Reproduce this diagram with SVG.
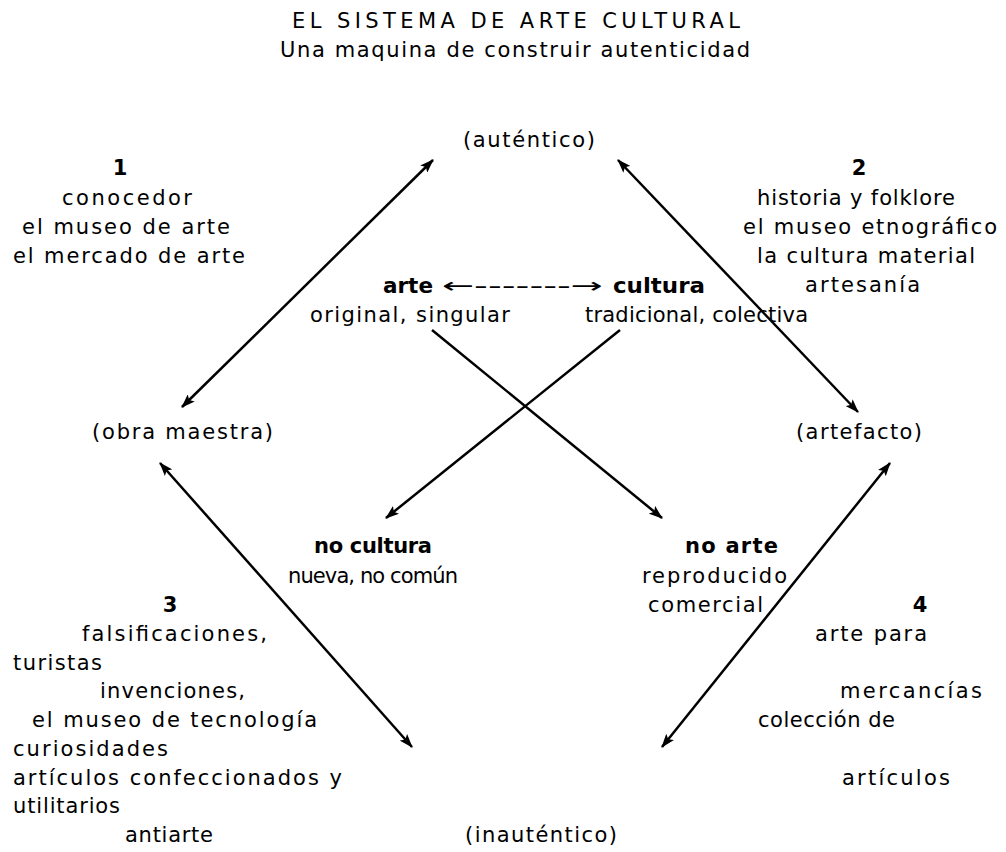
<svg xmlns="http://www.w3.org/2000/svg" width="1006" height="852" viewBox="0 0 1006 852">
<style>
text{font-family:"DejaVu Sans","Liberation Sans",sans-serif;font-size:21px;fill:#000}
.b{font-weight:bold}
.m{text-anchor:middle}
.c{stroke:#000;stroke-width:2.5;fill:none}
</style>
<defs>
<marker id="ah" viewBox="0 0 14 10" refX="13" refY="5" markerWidth="14" markerHeight="10" markerUnits="userSpaceOnUse" orient="auto-start-reverse">
<path d="M0,0 L14,5 L0,10 L3,5 z" fill="#000"/>
</marker>
</defs>
<rect width="1006" height="852" fill="#fff"/>
<g id="title">
<text x="292" y="28" textLength="448" lengthAdjust="spacing">EL SISTEMA DE ARTE CULTURAL</text>
<text x="280" y="57" textLength="470" lengthAdjust="spacing">Una maquina de construir autenticidad</text>
</g>
<g id="autentico"><text x="463" y="147" textLength="132" lengthAdjust="spacing">(auténtico)</text></g>
<g id="zona1">
<text class="b m" x="120" y="175">1</text>
<text x="62" y="205" textLength="130" lengthAdjust="spacing">conocedor</text>
<text x="22" y="234" textLength="208" lengthAdjust="spacing">el museo de arte</text>
<text x="13" y="263" textLength="232" lengthAdjust="spacing">el mercado de arte</text>
</g>
<g id="zona2">
<text class="b m" x="859" y="175">2</text>
<text x="757" y="205" textLength="198" lengthAdjust="spacing">historia y folklore</text>
<text x="743" y="234" textLength="254" lengthAdjust="spacing">el museo etnográfico</text>
<text x="757" y="263" textLength="218" lengthAdjust="spacing">la cultura material</text>
<text x="805" y="292" textLength="115" lengthAdjust="spacing">artesanía</text>
</g>
<g id="arte">
<text class="b" x="383" y="293" textLength="50" lengthAdjust="spacingAndGlyphs">arte</text>
<text x="310" y="322" textLength="200" lengthAdjust="spacing">original, singular</text>
</g>
<g id="arte-cultura-eje"><text x="442" y="293" textLength="161" lengthAdjust="spacingAndGlyphs">←-------→</text></g>
<g id="cultura">
<text class="b" x="613" y="293" textLength="92" lengthAdjust="spacingAndGlyphs">cultura</text>
<text x="585" y="322" textLength="223" lengthAdjust="spacing">tradicional, colectiva</text>
</g>
<g id="obra-maestra"><text x="92" y="439" textLength="181" lengthAdjust="spacing">(obra maestra)</text></g>
<g id="artefacto"><text x="796" y="439" textLength="126" lengthAdjust="spacing">(artefacto)</text></g>
<g id="no-cultura">
<text class="b" x="314" y="553" textLength="118" lengthAdjust="spacing">no cultura</text>
<text x="288" y="583" textLength="170" lengthAdjust="spacing">nueva, no común</text>
</g>
<g id="no-arte">
<text class="b" x="685" y="553" textLength="93" lengthAdjust="spacing">no arte</text>
<text x="642" y="583" textLength="145" lengthAdjust="spacing">reproducido</text>
<text x="648" y="612" textLength="115" lengthAdjust="spacing">comercial</text>
</g>
<g id="zona3">
<text class="b m" x="170" y="612">3</text>
<text x="82" y="641" textLength="185" lengthAdjust="spacing">falsificaciones,</text>
<text x="13" y="670" textLength="89" lengthAdjust="spacing">turistas</text>
<text x="100" y="698" textLength="145" lengthAdjust="spacing">invenciones,</text>
<text x="32" y="727" textLength="285" lengthAdjust="spacing">el museo de tecnología</text>
<text x="13" y="756" textLength="155" lengthAdjust="spacing">curiosidades</text>
<text x="13" y="785" textLength="329" lengthAdjust="spacing">artículos confeccionados y</text>
<text x="13" y="813" textLength="107" lengthAdjust="spacing">utilitarios</text>
<text x="125" y="842" textLength="88" lengthAdjust="spacing">antiarte</text>
</g>
<g id="zona4">
<text class="b m" x="920" y="612">4</text>
<text x="815" y="641" textLength="112" lengthAdjust="spacing">arte para</text>
<text x="840" y="698" textLength="142" lengthAdjust="spacing">mercancías</text>
<text x="758" y="727" textLength="137" lengthAdjust="spacing">colección de</text>
<text x="842" y="785" textLength="108" lengthAdjust="spacing">artículos</text>
</g>
<g id="inautentico"><text x="465" y="842" textLength="152" lengthAdjust="spacing">(inauténtico)</text></g>
<g id="connectors">
<line class="c" x1="182" y1="407" x2="433" y2="160" marker-start="url(#ah)" marker-end="url(#ah)"/>
<line class="c" x1="858" y1="412" x2="618" y2="160" marker-start="url(#ah)" marker-end="url(#ah)"/>
<line class="c" x1="160" y1="463" x2="412" y2="747" marker-start="url(#ah)" marker-end="url(#ah)"/>
<line class="c" x1="890" y1="463" x2="662" y2="747" marker-start="url(#ah)" marker-end="url(#ah)"/>
<line class="c" x1="432" y1="330" x2="662" y2="518" marker-end="url(#ah)"/>
<line class="c" x1="620" y1="330" x2="386" y2="518" marker-end="url(#ah)"/>
</g>
</svg>
